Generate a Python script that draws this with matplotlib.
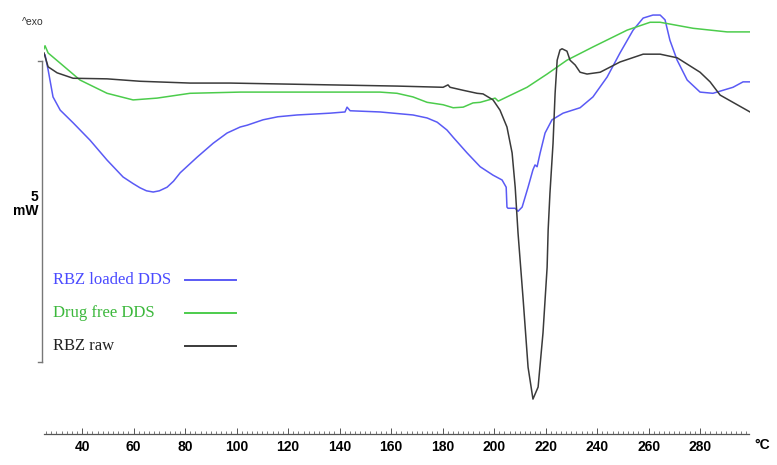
import matplotlib
matplotlib.use("Agg")
import matplotlib.pyplot as plt
from matplotlib.lines import Line2D
from matplotlib.ticker import MultipleLocator

# temperature (°C) and heat flow (mW, arbitrary offset)
t_loaded = [25.2, 25.6, 26.8, 28.7, 31.5, 36.5, 43.1, 49.7, 55.9, 59.8, 62.5, 65.0,
            67.6, 70.0, 73.0, 75.5, 78.1, 84.7, 90.9, 96.3, 101.4, 104.1, 110.3,
            116.0, 123.5, 136.3, 142.1, 142.9, 144.1, 155.7, 168.5, 174.0, 177.9,
            181.7, 184.1, 189.5, 194.6, 199.6, 203.1, 204.7, 205.0, 205.4, 208.2,
            209.3, 210.9, 213.2, 215.1, 215.9, 216.7, 217.9, 219.8, 222.5, 226.8,
            233.4, 238.4, 243.9, 248.9, 254.0, 257.9, 261.7, 264.5, 266.4, 268.3,
            271.1, 275.0, 280.0, 285.0, 288.9, 292.8, 296.7, 299.4]
hf_loaded = [6.31, 6.30, 6.05, 5.60, 5.38, 5.17, 4.88, 4.55, 4.27, 4.16, 4.09, 4.04,
             4.02, 4.04, 4.10, 4.20, 4.34, 4.60, 4.83, 5.00, 5.10, 5.13, 5.22,
             5.27, 5.30, 5.33, 5.35, 5.43, 5.37, 5.35, 5.30, 5.25, 5.18,
             5.05, 4.93, 4.67, 4.44, 4.30, 4.22, 4.10, 3.77, 3.75, 3.75,
             3.70, 3.77, 4.10, 4.39, 4.47, 4.44, 4.67, 5.00, 5.22, 5.33,
             5.42, 5.60, 5.93, 6.33, 6.71, 6.91, 6.96, 6.96, 6.88, 6.54,
             6.21, 5.88, 5.68, 5.66, 5.71, 5.76, 5.85, 5.85]

t_free = [25.2, 25.6, 26.8, 31.5, 39.2, 49.7, 59.8, 69.1, 81.9, 101.4, 123.5, 155.7,
          162.3, 168.5, 174.0, 180.2, 184.1, 188.0, 191.8, 194.6, 200.4, 201.6,
          205.0, 212.8, 220.6, 228.3, 238.4, 251.7, 260.6, 264.5, 277.3, 290.5, 299.4]
hf_free = [6.40, 6.45, 6.33, 6.16, 5.88, 5.66, 5.55, 5.58, 5.66, 5.68, 5.68, 5.68,
           5.66, 5.60, 5.51, 5.47, 5.42, 5.43, 5.50, 5.51, 5.58, 5.53,
           5.60, 5.76, 5.98, 6.21, 6.43, 6.71, 6.84, 6.84, 6.74, 6.68, 6.68]

t_raw = [25.2, 26.8, 30.3, 36.5, 49.7, 62.5, 81.9, 97.5, 136.3, 162.3, 180.2, 182.1,
         182.9, 188.0, 193.4, 195.7, 199.6, 202.3, 205.0, 207.0, 208.2, 209.3, 211.3,
         213.2, 215.1, 217.1, 219.0, 220.6, 221.0, 221.7, 222.9, 223.7, 224.5, 225.6,
         226.4, 228.3, 229.5, 231.5, 233.4, 236.1, 241.2, 248.9, 257.9, 264.5, 271.1,
         280.0, 283.9, 287.8, 299.4]
hf_raw = [6.33, 6.10, 6.00, 5.91, 5.90, 5.86, 5.83, 5.83, 5.80, 5.78, 5.76, 5.80,
          5.76, 5.71, 5.66, 5.65, 5.55, 5.38, 5.10, 4.67, 4.10, 3.34, 2.23,
          1.11, 0.58, 0.78, 1.68, 2.77, 3.39, 4.00, 4.83, 5.66, 6.21, 6.38,
          6.40, 6.36, 6.21, 6.13, 6.01, 5.98, 6.01, 6.18, 6.31, 6.31, 6.25,
          6.01, 5.85, 5.63, 5.35]

labels = ["RBZ loaded DDS", "Drug free DDS", "RBZ raw"]
colors = ["#5a5af5", "#4ccc4c", "#3a3a3a"]
text_colors = ["#4b4bff", "#3cb83c", "#222222"]

fig = plt.figure(figsize=(7.77, 4.65), dpi=100)
ax = fig.add_axes([44 / 777, 31 / 465, 705.5 / 777, 434 / 465])

for t, hf, c in zip([t_loaded, t_free, t_raw], [hf_loaded, hf_free, hf_raw], colors):
    ax.plot(t, hf, color=c, lw=1.1)

ax.set_xlim(25.2, 299.2)
ax.set_ylim(0, 7.21)

for s in ["top", "right", "left"]:
    ax.spines[s].set_visible(False)
ax.spines["bottom"].set_color("#555555")
ax.spines["bottom"].set_linewidth(0.9)
ax.set_yticks([])

ax.xaxis.set_major_locator(MultipleLocator(20))
ax.xaxis.set_minor_locator(MultipleLocator(2))
ax.set_xticks(range(40, 300, 20))
ax.tick_params(axis="x", which="major", direction="in", length=4, width=0.7,
               color="#555555", pad=4, labelsize=10)
ax.tick_params(axis="x", which="minor", direction="in", length=2.5, width=0.6,
               color="#666666")
for lbl in ax.get_xticklabels():
    lbl.set_fontweight("bold")
    lbl.set_fontfamily("Liberation Sans")

fig.text(762 / 777, 1 - 445 / 465, "°C", ha="center", va="center",
         fontsize=10, fontweight="bold", family="Liberation Sans")

# 5 mW scale bar on the left
xb = 24.4
ax.plot([xb, xb], [1.2, 6.2], color="#777777", lw=1.0, clip_on=False)
ax.plot([23.0, xb], [6.2, 6.2], color="#777777", lw=1.0, clip_on=False)
ax.plot([23.0, xb], [1.2, 1.2], color="#777777", lw=1.0, clip_on=False)
fig.text(38 / 777, 1 - 204 / 465, "5\nmW", ha="right", va="center", linespacing=1.0,
         fontsize=10, fontweight="bold", family="Liberation Sans")
fig.text(33 / 777, 1 - 22 / 465, "^exo", ha="center", va="center",
         fontsize=7.5, color="#333333", family="Liberation Sans")

# legend: label text followed by a line sample
for i, (lab, c, tc) in enumerate(zip(labels, colors, text_colors)):
    yc = 1 - (280 + 33 * i) / 465
    fig.text(53 / 777, yc, lab, ha="left", va="center", color=tc,
             fontsize=12, family="Liberation Serif")
    fig.add_artist(Line2D([185 / 777, 236 / 777], [yc, yc], color=c, lw=1.4,
                          transform=fig.transFigure))

fig.savefig("out.png", dpi=100)
